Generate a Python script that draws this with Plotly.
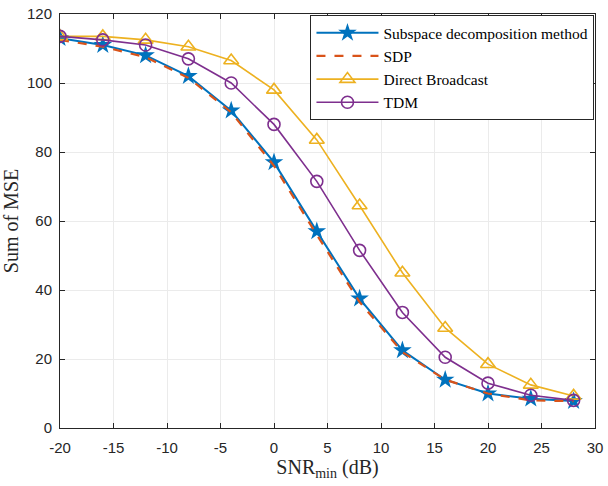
import plotly.graph_objects as go

snr = [-20, -16, -12, -8, -4, 0, 4, 8, 12, 16, 20, 24, 28]
subspace = [113, 111, 108, 102, 92, 77, 57, 37.5, 22.5, 14, 10, 8.5, 7.8]
sdp = [112.5, 110.5, 107.5, 101.5, 91.5, 76, 56, 36.5, 22, 14, 10, 8, 7.8]
direct = [113.5, 113.5, 112.5, 110.5, 106.5, 98, 83.5, 64.5, 45, 29, 18.5, 12.5, 9.3]
tdm = [113.5, 112.5, 111, 107, 100, 88, 71.5, 51.5, 33.5, 20.5, 13, 9.5, 8]

x_ticks = [-20, -15, -10, -5, 0, 5, 10, 15, 20, 25, 30]
x_labels = ["-20", "-15", "-10", "-5", "0", "5", "10", "15", "20", "25", "30"]

fig = go.Figure()
fig.add_trace(go.Scatter(x=snr, y=subspace, name="Subspace decomposition method", mode="lines+markers",
                         line={"color": "#0072BD", "width": 2},
                         marker={"symbol": "star", "size": 14, "color": "#0072BD"}))
fig.add_trace(go.Scatter(x=snr, y=sdp, name="SDP", mode="lines",
                         line={"color": "#D95319", "width": 2.2, "dash": "dash"}))
fig.add_trace(go.Scatter(x=snr, y=direct, name="Direct Broadcast", mode="lines+markers",
                         line={"color": "#EDB120", "width": 1.6},
                         marker={"symbol": "triangle-up-open", "size": 13, "color": "#EDB120", "line": {"width": 1.6}}))
fig.add_trace(go.Scatter(x=snr, y=tdm, name="TDM", mode="lines+markers",
                         line={"color": "#7E2F8E", "width": 1.6},
                         marker={"symbol": "circle-open", "size": 12, "color": "#7E2F8E", "line": {"width": 1.6}}))

axis_common = dict(
    showline=True, linecolor="#262626", linewidth=1, mirror="ticks",
    ticks="inside", ticklen=5, tickcolor="#262626",
    showgrid=True, gridcolor="#ebebeb", zeroline=False,
    ticklabeloverflow="allow",
    tickfont={"family": "Liberation Sans", "size": 15, "color": "#262626"},
)
title_font = {"family": "Liberation Serif", "size": 20, "color": "#262626"}
fig.update_xaxes(range=[-20, 30], tickvals=x_ticks, ticktext=x_labels, ticklabelstandoff=6,
                 title={"text": "SNR<sub>min</sub> (dB)", "standoff": 1, "font": title_font}, **axis_common)
fig.update_yaxes(range=[0, 120], dtick=20, ticklabelstandoff=4,
                 title={"text": "Sum of MSE", "standoff": 8, "font": title_font}, **axis_common)
fig.update_layout(
    width=608, height=486,
    margin={"l": 57, "r": 10, "t": 5, "b": 58},
    plot_bgcolor="white", paper_bgcolor="white",
    legend={"x": 0.999, "y": 0.997, "xanchor": "right", "yanchor": "top",
            "bordercolor": "#262626", "borderwidth": 1, "bgcolor": "white",
            "font": {"family": "Liberation Serif", "size": 15.5, "color": "#000000"},
            "tracegroupgap": 0, "itemwidth": 62},
    showlegend=True,
)
fig.write_html("out.html", config={"displayModeBar": False},
               post_script="document.body.style.margin='0';")
